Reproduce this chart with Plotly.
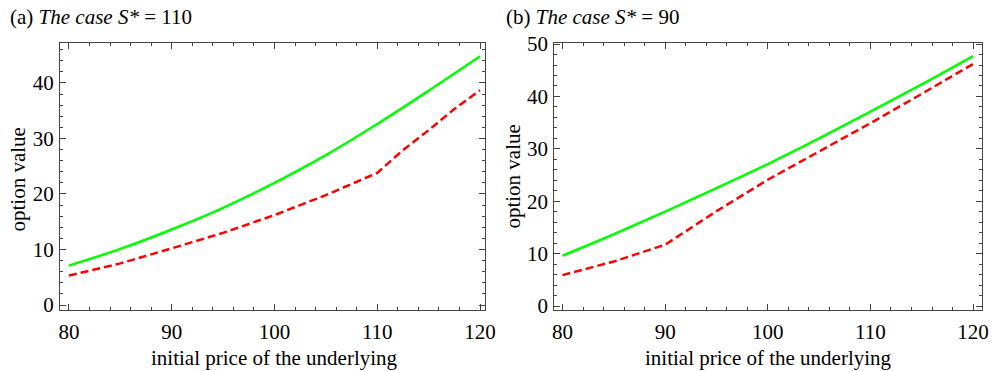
import plotly.graph_objects as go

# ---- data ----
s_left = [80, 85, 90, 95, 100, 105, 110, 115, 120]
green_left = [7.1, 10.1, 13.6, 17.5, 22.0, 27.0, 32.6, 38.6, 44.8]
s_left_red = [80, 85, 90, 95, 100, 105, 110, 112.5, 115, 117.5, 120]
red_left = [5.3, 7.5, 10.2, 13.0, 16.2, 19.8, 23.8, 27.9, 31.5, 35.3, 38.7]

s_right = [80, 85, 90, 95, 100, 105, 110, 115, 120]
green_right = [9.6, 13.7, 18.0, 22.5, 27.1, 32.0, 37.1, 42.3, 47.7]
s_right_red = [80, 85, 90, 95, 100, 105, 110, 115, 120]
red_right = [5.9, 8.5, 11.7, 18.1, 24.1, 29.5, 34.9, 40.5, 46.2]

titles = ["(a) <i>The case S*</i> = 110", "(b) <i>The case S*</i> = 90"]
xlabel = "initial price of the underlying"
ylabel = "option value"
xticks = [80, 90, 100, 110, 120]

FONT = "Liberation Serif"
FS = 21
TFS = 21
FRAME = "#444444"
W, H = 999, 371
ML, MR, MT, MB = 60, 6, 43, 61

fig = go.Figure()
fig.add_trace(go.Scatter(x=s_left, y=green_left, mode="lines", line=dict(color="#00ff00", width=2.5, shape="spline", smoothing=1.0), xaxis="x", yaxis="y"))
fig.add_trace(go.Scatter(x=s_left_red, y=red_left, mode="lines", line=dict(color="#ff0000", width=2.5, dash="8px,4px"), xaxis="x", yaxis="y"))
fig.add_trace(go.Scatter(x=s_right, y=green_right, mode="lines", line=dict(color="#00ff00", width=2.5, shape="spline", smoothing=1.0), xaxis="x2", yaxis="y2"))
fig.add_trace(go.Scatter(x=s_right_red, y=red_right, mode="lines", line=dict(color="#ff0000", width=2.5, dash="8px,4px"), xaxis="x2", yaxis="y2"))

def xaxis(domain, rng, anchor):
    return dict(domain=domain, range=rng, anchor=anchor, showgrid=False, zeroline=False,
                showline=True, linecolor=FRAME, linewidth=1, mirror="ticks",
                ticks="inside", ticklen=6, tickcolor=FRAME, tickwidth=1,
                tickvals=xticks, ticklabelstandoff=3,
                minor=dict(dtick=2, tick0=80, ticks="inside", ticklen=3, tickcolor=FRAME, showgrid=False),
                tickfont=dict(family=FONT, size=TFS, color="black"))

def yaxis(rng, anchor):
    return dict(domain=[0, 1], range=rng, anchor=anchor, showgrid=False, zeroline=False,
                showline=True, linecolor=FRAME, linewidth=1, mirror="ticks",
                ticks="inside", ticklen=6, tickcolor=FRAME, tickwidth=1,
                dtick=10, tick0=0, ticklabelstandoff=1,
                minor=dict(dtick=2, tick0=0, ticks="inside", ticklen=3, tickcolor=FRAME, showgrid=False),
                tickfont=dict(family=FONT, size=TFS, color="black"))

fig.update_layout(
    width=W, height=H,
    margin=dict(l=ML, r=MR, t=MT, b=MB),
    paper_bgcolor="white", plot_bgcolor="white",
    showlegend=False,
    xaxis=xaxis([0, 0.4609], [79.13, 120.48], "y"),
    yaxis=yaxis([-0.9, 47.2], "x"),
    xaxis2=xaxis([0.5359, 1], [79.18, 120.87], "y2"),
    yaxis2=yaxis([-0.76, 50.2], "x2"),
)

def px2paper(px, py):
    return (px - ML) / (W - ML - MR), 1 - (py - MT) / (H - MT - MB)

ann = []
for txt, x in zip(titles, [7, 509]):
    ax, ay = px2paper(x, 17)
    ann.append(dict(text=txt, x=ax, y=ay, xref="paper", yref="paper",
                    xanchor="left", yanchor="middle", showarrow=False,
                    font=dict(family=FONT, size=FS, color="black")))
for x in [277, 777]:
    ax, ay = px2paper(x, 358)
    ann.append(dict(text=xlabel, x=ax, y=ay, xref="paper", yref="paper",
                    xanchor="center", yanchor="middle", showarrow=False,
                    font=dict(family=FONT, size=FS, color="black")))
for x, y in [(17, 180), (518, 177)]:
    ax, ay = px2paper(x, y)
    ann.append(dict(text=ylabel, x=ax, y=ay, xref="paper", yref="paper",
                    xanchor="center", yanchor="middle", showarrow=False, textangle=-90,
                    font=dict(family=FONT, size=FS, color="black")))
fig.update_layout(annotations=ann)

fig.write_html("out.html", config={"displayModeBar": False})
with open("out.html", "r", encoding="utf-8") as f:
    html = f.read()
html = html.replace("<body>", '<body style="margin:0;padding:0;overflow:hidden">', 1)
with open("out.html", "w", encoding="utf-8") as f:
    f.write(html)
